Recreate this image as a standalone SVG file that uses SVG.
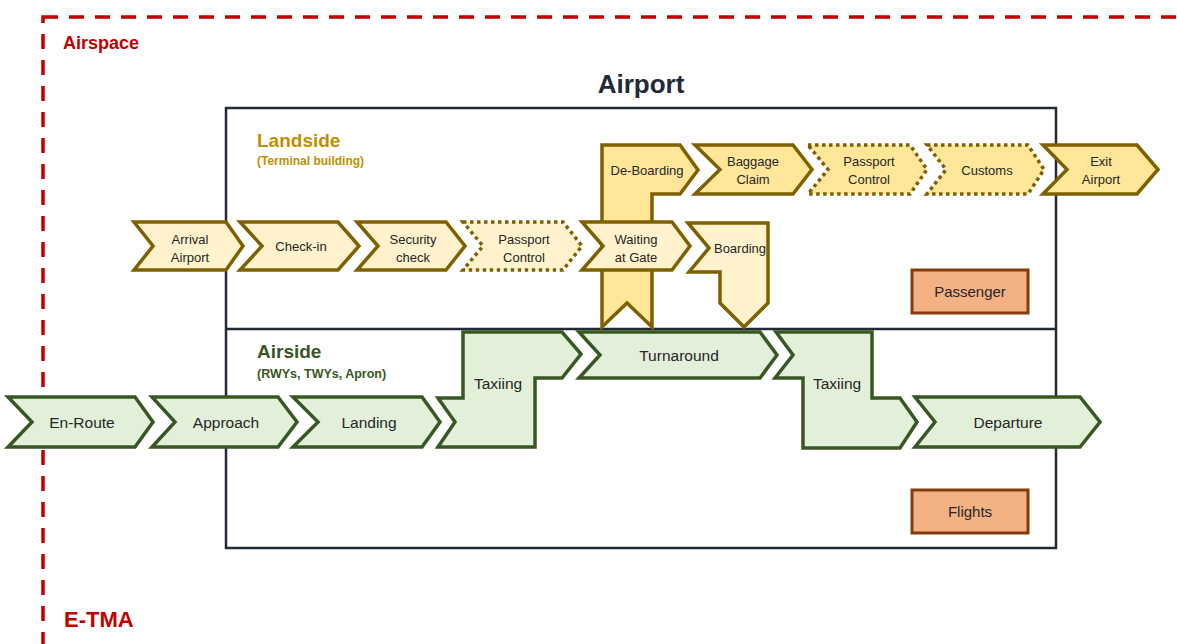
<svg xmlns="http://www.w3.org/2000/svg" width="1177" height="644" viewBox="0 0 1177 644">
  <style>
    text { font-family: "Liberation Sans", Arial, sans-serif; fill: #262626; text-anchor: middle; }
    .zone { fill: none; stroke: #C00000; stroke-width: 3.5; stroke-dasharray: 15 11; }
    .zone-label { font-weight: bold; fill: #C00000; text-anchor: start; }
    .box { fill: none; stroke: #222A35; stroke-width: 2.5; }
    .title { font-weight: bold; font-size: 26px; fill: #222A35; }
    .land-h { font-weight: bold; fill: #BF9000; text-anchor: start; }
    .air-h { font-weight: bold; fill: #385723; text-anchor: start; }
    .pax { fill: #FFF2CC; stroke: #7F6000; stroke-width: 3.5; stroke-linejoin: miter; }
    .pax2 { fill: #FFE699; stroke: #7F6000; stroke-width: 3.5; stroke-linejoin: miter; }
    .dotted { stroke-dasharray: 3.5 3.5; }
    .flt { fill: #E2F0D9; stroke: #385723; stroke-width: 3.5; stroke-linejoin: miter; }
    .legend { fill: #F4B183; stroke: #843C0C; stroke-width: 3; }
    .t13 { font-size: 13px; }
    .t15 { font-size: 15.5px; }
  </style>

  <!-- airspace boundary (right edge runs just past the canvas) -->
  <g id="airspace">
    <rect class="zone" x="43" y="17" width="1136" height="700"/>
    <text class="zone-label" x="63" y="49" font-size="18">Airspace</text>
    <text class="zone-label" x="64" y="627" font-size="22">E-TMA</text>
  </g>

  <!-- airport frame with landside / airside split -->
  <g id="airport">
    <text class="title" x="641" y="93">Airport</text>
    <rect class="box" x="226" y="108" width="830" height="440"/>
    <line class="box" x1="226" y1="329" x2="1056" y2="329"/>
  </g>
  <g id="landside-label">
    <text class="land-h" x="257" y="147" font-size="19">Landside</text>
    <text class="land-h" x="257" y="165" font-size="12">(Terminal building)</text>
  </g>
  <g id="airside-label">
    <text class="air-h" x="257" y="358" font-size="19">Airside</text>
    <text class="air-h" x="257" y="378" font-size="12.5">(RWYs, TWYs, Apron)</text>
  </g>

  <!-- passenger process: departing flow -->
  <g id="arrival-airport">
    <polygon class="pax" points="134,222 226,222 243,246 226,270 134,270 153,246"/>
    <text class="t13" x="190" y="244">Arrival</text>
    <text class="t13" x="190" y="262">Airport</text>
  </g>
  <g id="check-in">
    <polygon class="pax" points="240,222 338,222 359,246 338,270 240,270 262,246"/>
    <text class="t13" x="301" y="251">Check-in</text>
  </g>
  <g id="security-check">
    <polygon class="pax" points="357,222 446,222 465,246 446,270 357,270 378,246"/>
    <text class="t13" x="413" y="244">Security</text>
    <text class="t13" x="413" y="262">check</text>
  </g>
  <g id="passport-control-out">
    <polygon class="pax dotted" points="463,222 563,222 582,246 563,270 463,270 483,246"/>
    <text class="t13" x="524" y="244">Passport</text>
    <text class="t13" x="524" y="262">Control</text>
  </g>

  <!-- passenger process: arriving flow -->
  <g id="de-boarding">
    <polygon class="pax2" points="602,145 680,145 698,170 680,194 652,194 652,327 627,303 602,327"/>
    <text class="t13" x="647" y="175">De-Boarding</text>
  </g>
  <g id="waiting-at-gate">
    <polygon class="pax" points="582,222 672,222 690,246 672,270 582,270 603,246"/>
    <text class="t13" x="636" y="244">Waiting</text>
    <text class="t13" x="636" y="262">at Gate</text>
  </g>
  <g id="boarding">
    <polygon class="pax" points="688,223 768,223 768,303 744,327 720,303 720,272 689,272 709,248"/>
    <text class="t13" x="740" y="253">Boarding</text>
  </g>
  <g id="baggage-claim">
    <polygon class="pax2" points="695,145 793,145 812,169.5 793,194 695,194 720,169.5"/>
    <text class="t13" x="753" y="166">Baggage</text>
    <text class="t13" x="753" y="184">Claim</text>
  </g>
  <g id="passport-control-in">
    <polygon class="pax2 dotted" points="808,145 910,145 927,169.5 910,194 808,194 828,169.5"/>
    <text class="t13" x="869" y="166">Passport</text>
    <text class="t13" x="869" y="184">Control</text>
  </g>
  <g id="customs">
    <polygon class="pax2 dotted" points="927,145 1028,145 1044,169.5 1028,194 927,194 946,169.5"/>
    <text class="t13" x="987" y="175">Customs</text>
  </g>
  <g id="exit-airport">
    <polygon class="pax2" points="1043,145 1137,145 1158,169.5 1137,194 1043,194 1067,169.5"/>
    <text class="t13" x="1101" y="166">Exit</text>
    <text class="t13" x="1101" y="184">Airport</text>
  </g>

  <!-- flight process -->
  <g id="en-route">
    <polygon class="flt" points="8,397 135,397 153,422 135,447 8,447 32,422"/>
    <text class="t15" x="82" y="428">En-Route</text>
  </g>
  <g id="approach">
    <polygon class="flt" points="152,397 278,397 297,422 278,447 152,447 175,422"/>
    <text class="t15" x="226" y="428">Approach</text>
  </g>
  <g id="landing">
    <polygon class="flt" points="293,397 422,397 440,422 422,447 293,447 318,422"/>
    <text class="t15" x="369" y="428">Landing</text>
  </g>
  <g id="taxiing-in">
    <polygon class="flt" points="463,332 562,332 581,354 562,378 535,378 535,447 438,447 455,422 438,398 463,398"/>
    <text class="t15" x="498" y="389">Taxiing</text>
  </g>
  <g id="turnaround">
    <polygon class="flt" points="579,332 760,332 777,355 760,378 579,378 600,355"/>
    <text class="t15" x="679" y="361">Turnaround</text>
  </g>
  <g id="taxiing-out">
    <polygon class="flt" points="776,332 872,332 872,398 900,398 917,422 900,448 803,448 803,378 775,378 793,355"/>
    <text class="t15" x="837" y="389">Taxiing</text>
  </g>
  <g id="departure">
    <polygon class="flt" points="915,397 1080,397 1100,422 1080,447 915,447 935,422"/>
    <text class="t15" x="1008" y="428">Departure</text>
  </g>

  <!-- legend -->
  <g id="legend-passenger">
    <rect class="legend" x="912" y="270" width="116" height="43"/>
    <text x="970" y="297" font-size="15">Passenger</text>
  </g>
  <g id="legend-flights">
    <rect class="legend" x="912" y="490" width="116" height="43"/>
    <text x="970" y="517" font-size="15">Flights</text>
  </g>
</svg>
